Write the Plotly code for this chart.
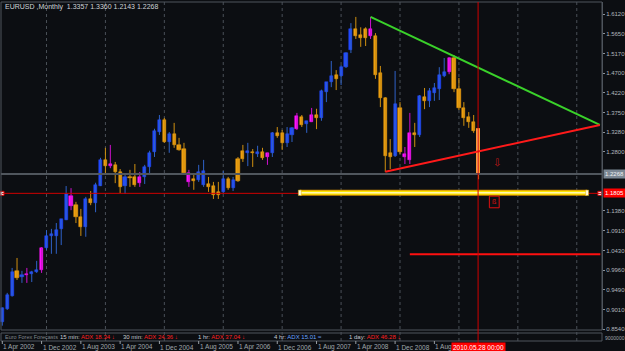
import plotly.graph_objects as go

W, H = 625, 351

# ---------------- data (monthly EURUSD, Apr 2002 .. May 2010) ----------------
months = list(range(98))
opens = [0.871,0.902,0.934,0.994,0.979,0.984,0.986,0.991,0.996,1.049,
         1.078,1.078,1.095,1.116,1.174,1.152,1.124,1.100,1.167,1.157,
         1.198,1.261,1.251,1.249,1.232,1.198,1.220,1.220,1.205,1.220,
         1.244,1.280,1.328,1.357,1.304,1.323,1.297,1.287,1.229,1.210,
         1.213,1.234,1.203,1.198,1.177,1.184,1.215,1.193,1.210,1.263,
         1.282,1.280,1.275,1.280,1.268,1.278,1.326,1.326,1.302,1.321,
         1.335,1.364,1.347,1.352,1.369,1.362,1.424,1.448,1.465,1.463,
         1.484,1.525,1.576,1.561,1.554,1.576,1.559,1.470,1.410,1.278,
         1.270,1.386,1.275,1.261,1.326,1.321,1.412,1.403,1.422,1.432,
         1.463,1.472,1.506,1.432,1.386,1.364,1.352,1.3357]
highs = [0.906,0.941,1.001,1.025,0.994,1.001,0.994,1.018,1.051,1.092,
         1.095,1.109,1.119,1.198,1.193,1.160,1.143,1.172,1.186,1.206,
         1.266,1.290,1.297,1.256,1.239,1.229,1.237,1.251,1.232,1.249,
         1.283,1.336,1.369,1.362,1.328,1.350,1.314,1.302,1.237,1.227,
         1.249,1.261,1.220,1.208,1.208,1.234,1.220,1.220,1.268,1.297,
         1.302,1.287,1.295,1.290,1.278,1.328,1.340,1.333,1.340,1.340,
         1.374,1.369,1.355,1.386,1.384,1.430,1.448,1.499,1.477,1.489,
         1.520,1.590,1.605,1.580,1.580,1.605,1.566,1.487,1.412,1.311,
         1.475,1.400,1.292,1.374,1.350,1.417,1.434,1.434,1.446,1.484,
         1.506,1.508,1.513,1.458,1.400,1.376,1.369,1.3360]
lows = [0.862,0.900,0.932,0.972,0.965,0.965,0.967,0.989,0.989,1.044,
        1.035,1.035,1.056,1.116,1.140,1.109,1.078,1.076,1.152,1.135,
        1.198,1.229,1.241,1.205,1.181,1.179,1.196,1.196,1.196,1.203,
        1.225,1.268,1.321,1.302,1.278,1.290,1.283,1.229,1.196,1.189,
        1.208,1.196,1.184,1.167,1.167,1.181,1.189,1.186,1.208,1.256,
        1.246,1.244,1.268,1.261,1.249,1.268,1.314,1.285,1.292,1.304,
        1.333,1.340,1.326,1.352,1.335,1.355,1.400,1.436,1.429,1.441,
        1.482,1.518,1.552,1.533,1.535,1.552,1.456,1.388,1.232,1.239,
        1.268,1.275,1.251,1.251,1.292,1.316,1.383,1.388,1.403,1.405,
        1.460,1.467,1.424,1.381,1.343,1.338,1.326,1.2143]
closes = [0.905,0.936,0.991,0.977,0.984,0.986,0.991,0.996,1.049,1.078,
          1.083,1.092,1.119,1.179,1.150,1.124,1.100,1.167,1.157,1.201,
          1.261,1.246,1.246,1.232,1.196,1.220,1.217,1.201,1.220,1.244,
          1.278,1.331,1.357,1.304,1.323,1.297,1.285,1.229,1.208,1.215,
          1.232,1.201,1.196,1.177,1.184,1.215,1.193,1.213,1.263,1.282,
          1.277,1.277,1.280,1.265,1.278,1.326,1.319,1.302,1.323,1.338,
          1.367,1.345,1.355,1.369,1.362,1.427,1.448,1.463,1.456,1.484,
          1.518,1.576,1.559,1.554,1.576,1.559,1.465,1.410,1.270,1.268,
          1.395,1.280,1.268,1.326,1.321,1.415,1.403,1.427,1.434,1.465,
          1.472,1.506,1.432,1.386,1.362,1.352,1.330,1.2268]
bar_colors = list("bbbobmbbmb" "bbbbmoobob" "bomooboomb" "bbbobooomo"
                  "bboooboboo" "bobomboobb" "mobmobbbob" "bbooomoooo"
                  "bommobobbb" "bmooooop")

# ticks / labels
price_ticks = [1.6120,1.5650,1.5170,1.4700,1.4220,1.3750,1.3280,1.2800,
               1.1380,1.0910,1.0430,0.9960,0.9490,0.9010,0.8540]
time_tick_idx = [0,8,16,24,32,40,48,56,64,72,80,88]
time_tick_labels = ["1 Apr 2002","1 Dec 2002","1 Aug 2003","1 Apr 2004",
                    "1 Dec 2004","1 Aug 2005","1 Apr 2006","1 Dec 2006",
                    "1 Aug 2007","1 Apr 2008","1 Dec 2008","1 Aug 2009"]
year_start_idx = [9,21,33,45,57,69,81,93,105,117]

# indicator row
adx_frames = ["15 min:", "30 min:", "1 hr:", "4 hr:", "1 day:"]
adx_values = [18.34, 24.36, 37.04, 15.01, 46.28]
adx_arrows = ["↓", "↓", "↓", "≈", "↓"]
adx_kind = ["down", "down", "down", "flat", "down"]

# drawn objects (values)
bid_price = 1.2268
level_red = 1.1805
band_price = 1.1818
band_span = [60.6, 119.1]
level_low = 1.0338
level_low_span = [83.0, 121.8]
green_trend = [(75, 1.605), (121.7, 1.345)]
red_trend = [(78, 1.2325), (121.7, 1.345)]
vline_idx = 96.9
arrow_pos = (100.8, 1.2535)
box_pos = (100.2, 1.1597)
title_text = "EURUSD ,Monthly  1.3357 1.3360 1.2143 1.2268"

# ---------------- helpers ----------------
def px(x):
    return x / W

def py(y):
    return 1 - y / H

COL = {"b": "#2248ff", "o": "#f0a010", "m": "#ff14ff", "p": "#ffc890"}
WICK = {"b": "#2f62c8", "o": "#d09010", "m": "#d010d0", "p": "#ff9a30"}
BG = "#0c0e12"
FRAME = "#4e555d"
FONT = "Liberation Sans"

fig = go.Figure()

for key in ["b", "o", "m", "p"]:
    idx = [i for i, c in enumerate(bar_colors) if c == key]
    if not idx:
        continue
    wx, wy = [], []
    for i in idx:
        wx += [months[i], months[i], None]
        wy += [lows[i], highs[i], None]
    fig.add_trace(go.Scatter(x=wx, y=wy, mode="lines",
                             line=dict(color=WICK[key], width=1),
                             hoverinfo="skip", showlegend=False))
    base = [min(opens[i], closes[i]) for i in idx]
    hgt = [max(abs(closes[i] - opens[i]), 0.0026) for i in idx]
    fig.add_trace(go.Bar(x=[months[i] for i in idx], y=hgt, base=base,
                         width=0.64, marker=dict(color=COL[key],
                         line=dict(color=WICK[key] if key == "p" else COL[key],
                                   width=1 if key == "p" else 0.5)),
                         hoverinfo="skip", showlegend=False))

shapes = []
for m in year_start_idx:
    shapes.append(dict(type="line", xref="x", yref="paper", x0=m, x1=m,
                       y0=py(341), y1=py(2), line=dict(color="#4a5058", width=1, dash="dot"),
                       layer="below"))
shapes.append(dict(type="rect", xref="paper", yref="paper", x0=px(1), x1=px(602),
                   y0=py(330), y1=py(2), line=dict(color=FRAME, width=1)))
shapes.append(dict(type="rect", xref="paper", yref="paper", x0=px(1), x1=px(602),
                   y0=py(341), y1=py(333), line=dict(color=FRAME, width=1)))
shapes.append(dict(type="line", xref="paper", yref="y", x0=px(1), x1=px(602),
                   y0=bid_price, y1=bid_price, line=dict(color="#50565d", width=2)))
shapes.append(dict(type="line", xref="paper", yref="y", x0=px(2), x1=px(601),
                   y0=level_red, y1=level_red, line=dict(color="#d00000", width=1)))
for c, w in [("#d89000", 6), ("#ffe600", 4), ("#fff7b0", 1.5)]:
    shapes.append(dict(type="line", xref="x", yref="y", x0=band_span[0], x1=band_span[1],
                       y0=band_price, y1=band_price, line=dict(color=c, width=w)))
for m in band_span:
    shapes.append(dict(type="rect", xref="x", yref="y", x0=m - 0.3, x1=m + 0.3,
                       y0=band_price - 0.0065, y1=band_price + 0.0065,
                       fillcolor="#fffbe0", line=dict(color="#e0b000", width=0.5)))
shapes.append(dict(type="line", xref="x", yref="y", x0=level_low_span[0], x1=level_low_span[1],
                   y0=level_low, y1=level_low, line=dict(color="#ff1010", width=2)))
shapes.append(dict(type="line", xref="x", yref="y", x0=green_trend[0][0], x1=green_trend[1][0],
                   y0=green_trend[0][1], y1=green_trend[1][1], line=dict(color="#3ad12a", width=2)))
shapes.append(dict(type="line", xref="x", yref="y", x0=red_trend[0][0], x1=red_trend[1][0],
                   y0=red_trend[0][1], y1=red_trend[1][1], line=dict(color="#ff1a1a", width=2)))
shapes.append(dict(type="line", xref="x", yref="paper", x0=vline_idx, x1=vline_idx,
                   y0=py(343), y1=py(2), line=dict(color="#d00000", width=1)))
shapes.append(dict(type="rect", xref="x", yref="y", x0=box_pos[0] - 1.0, x1=box_pos[0] + 1.0,
                   y0=box_pos[1] - 0.014, y1=box_pos[1] + 0.014, line=dict(color="#e01010", width=1)))
for m in time_tick_idx:
    shapes.append(dict(type="line", xref="x", yref="paper", x0=m, x1=m,
                       y0=py(344), y1=py(341), line=dict(color="#9aa0a6", width=1)))

fig.add_trace(go.Scatter(x=[-0.05, 121.7], y=[level_red, level_red], mode="markers",
                         marker=dict(symbol="square", size=4, color="#ffffff",
                                     line=dict(color="#d00000", width=1)),
                         hoverinfo="skip", showlegend=False, cliponaxis=False))

ann = []
ann.append(dict(text=title_text, xref="paper", yref="paper", x=px(3), y=py(7),
                xanchor="left", yanchor="middle", showarrow=False,
                font=dict(family=FONT, size=7, color="#d0d4d8")))
for m, lab in zip(time_tick_idx, time_tick_labels):
    ann.append(dict(text=lab, xref="x", yref="paper", x=m, y=py(347),
                    xanchor="left", yanchor="middle", showarrow=False, xshift=-1,
                    font=dict(family=FONT, size=6.5, color="#a0a6ac")))
ann.append(dict(text="2010.05.28 00:00", xref="x", yref="paper", x=vline_idx, y=py(347),
                xanchor="center", yanchor="middle", showarrow=False, bgcolor="#ff0000",
                borderpad=1, font=dict(family=FONT, size=6.5, color="#ffffff")))
ann.append(dict(text="1.2268", xref="paper", yref="y", x=px(603), y=bid_price,
                xanchor="left", yanchor="middle", showarrow=False, bgcolor="#7b8794",
                borderpad=1, font=dict(family=FONT, size=6, color="#f0f0f0")))
ann.append(dict(text="1.1805", xref="paper", yref="y", x=px(603), y=level_red,
                xanchor="left", yanchor="middle", showarrow=False, bgcolor="#ff0000",
                borderpad=1, font=dict(family=FONT, size=6, color="#ffffff")))
ann.append(dict(text="9000000", xref="paper", yref="paper", x=px(603), y=py(338),
                xanchor="left", yanchor="middle", showarrow=False,
                font=dict(family=FONT, size=5, color="#a0a6ac")))
ann.append(dict(text="⇩", xref="x", yref="y", x=arrow_pos[0], y=arrow_pos[1],
                showarrow=False, font=dict(family="DejaVu Sans", size=10, color="#c01818")))
ann.append(dict(text="ß", xref="x", yref="y", x=box_pos[0], y=box_pos[1],
                showarrow=False, font=dict(family=FONT, size=7, color="#e01010")))

ann.append(dict(text="Euro Forex Forecasts", xref="paper", yref="paper", x=px(3), y=py(337),
                xanchor="left", yanchor="middle", showarrow=False,
                font=dict(family=FONT, size=5.5, color="#80868c")))
row_x = [58, 121, 196, 272, 347]
kind_col = {"down": "#ff2020", "flat": "#6aa4ff"}
for x, fr, v, ar, k in zip(row_x, adx_frames, adx_values, adx_arrows, adx_kind):
    c = kind_col[k]
    txt = (f"<span style='color:#c8ccd0'>{fr}</span> "
           f"<span style='color:{c}'>ADX {v:.2f} {ar}</span>")
    ann.append(dict(text=txt, xref="paper", yref="paper", x=px(x), y=py(337),
                    xanchor="left", yanchor="middle", showarrow=False,
                    font=dict(family=FONT, size=6, color=c)))

xr = [(0 - 2.3) / 4.91, (602 - 2.3) / 4.91]
def p_of(y):
    return 1.612 - (y - 14) / 415.6

fig.update_layout(
    width=W, height=H, margin=dict(l=0, r=0, t=0, b=0),
    paper_bgcolor=BG, plot_bgcolor=BG, barmode="overlay", bargap=0,
    showlegend=False, shapes=shapes, annotations=ann,
    xaxis=dict(domain=[0, 602 / W], range=xr, showticklabels=False, showgrid=False,
               zeroline=False, showline=False, fixedrange=True),
    yaxis=dict(domain=[py(330), py(2)], range=[p_of(330), p_of(2)], side="right",
               tickvals=price_ticks, ticktext=[f"{v:.4f}" for v in price_ticks],
               tickfont=dict(family=FONT, size=6, color="#b0b6bc"),
               ticks="outside", ticklen=2, tickcolor="#8a9098",
               showline=True, linecolor=FRAME, showgrid=False, zeroline=False,
               automargin=False, fixedrange=True),
)

fig.write_html("out.html")
